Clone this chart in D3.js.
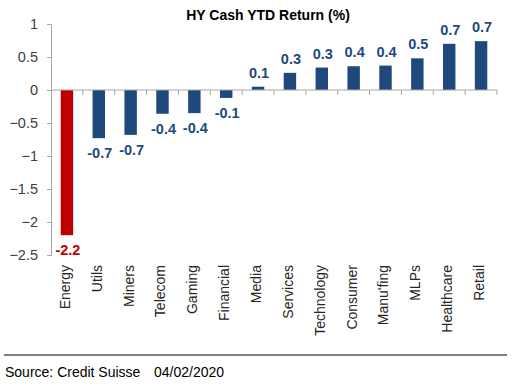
<!DOCTYPE html>
<html>
  <head>
    <meta charset="utf-8">
    <title>HY Cash YTD Return</title>
    <script src="https://d3js.org/d3.v7.min.js" type="text/javascript"></script>
    <style>
      body { margin: 0; background: #fff; }
      text { font-family: "Liberation Sans", Arial, sans-serif; }
    </style>
  </head>
  <body>
    <script>
      // chart data
      var sectors = ["Energy", "Utils", "Miners", "Telecom", "Gaming", "Financial", "Media",
                     "Services", "Technology", "Consumer", "Manu'fing", "MLPs", "Healthcare", "Retail"];
      var returns = [-2.2, -0.73, -0.68, -0.36, -0.35, -0.12, 0.05, 0.26, 0.34, 0.36, 0.37, 0.48, 0.70, 0.74];
      var valueLabels = ["-2.2", "-0.7", "-0.7", "-0.4", "-0.4", "-0.1", "0.1", "0.3", "0.3", "0.4", "0.4", "0.5", "0.7", "0.7"];
      var yTicks = [1, 0.5, 0, -0.5, -1, -1.5, -2, -2.5];
      var highlight = "Energy";

      var w = 519, h = 389;
      var blue = "#1f497d", red = "#c00000";

      var svg = d3.select("body").append("svg")
        .attr("width", w)
        .attr("height", h);

      var x = d3.scaleBand().domain(sectors).range([51, 497]);
      var y = d3.scaleLinear().domain([-2.5, 1]).range([255, 24]);

      // title
      svg.append("text")
        .attr("x", 268).attr("y", 20)
        .attr("text-anchor", "middle")
        .style("font-size", "14px").style("font-weight", "bold")
        .attr("fill", "#000")
        .text("HY Cash YTD Return (%)");

      // y axis
      var yAxis = svg.append("g")
        .attr("transform", "translate(51,0)")
        .call(d3.axisLeft(y).tickValues(yTicks).tickSize(4).tickFormat(d3.format("")));
      yAxis.select(".domain").attr("stroke", "#a6a6a6");
      yAxis.selectAll(".tick line").attr("stroke", "#a6a6a6");
      yAxis.selectAll(".tick text")
        .attr("x", -13)
        .attr("fill", "#404040")
        .style("font-size", "14.5px")
        .style("font-family", "Liberation Sans, Arial, sans-serif");

      // bars
      var barW = x.bandwidth() * 0.39;
      svg.selectAll(".bar")
        .data(sectors)
        .enter().append("rect")
        .attr("class", "bar")
        .attr("x", function(d) { return x(d) + (x.bandwidth() - barW) / 2; })
        .attr("width", barW)
        .attr("y", function(d, i) { return y(Math.max(0, returns[i])); })
        .attr("height", function(d, i) { return Math.abs(y(returns[i]) - y(0)); })
        .attr("fill", function(d) { return d === highlight ? red : blue; });

      // zero line with category dividers
      svg.append("line")
        .attr("x1", 51).attr("x2", 497)
        .attr("y1", y(0)).attr("y2", y(0))
        .attr("stroke", "#a6a6a6");
      svg.selectAll(".divider")
        .data(sectors)
        .enter().append("line")
        .attr("class", "divider")
        .attr("x1", function(d) { return x(d) + x.bandwidth(); })
        .attr("x2", function(d) { return x(d) + x.bandwidth(); })
        .attr("y1", y(0)).attr("y2", y(0) + 5)
        .attr("stroke", "#a6a6a6");

      // value labels
      svg.selectAll(".val")
        .data(sectors)
        .enter().append("text")
        .attr("class", "val")
        .attr("x", function(d) { return x(d) + x.bandwidth() / 2 + 1; })
        .attr("y", function(d, i) {
          return returns[i] >= 0 ? y(returns[i]) - 9 : y(returns[i]) + 20;
        })
        .attr("text-anchor", "middle")
        .style("font-size", "14.5px").style("font-weight", "bold")
        .attr("fill", function(d) { return d === highlight ? red : blue; })
        .text(function(d, i) { return valueLabels[i]; });

      // category labels
      svg.selectAll(".cat")
        .data(sectors)
        .enter().append("text")
        .attr("class", "cat")
        .attr("transform", function(d) {
          return "translate(" + (x(d) + x.bandwidth() / 2 - 2) + ",265) rotate(-90)";
        })
        .attr("text-anchor", "end")
        .attr("dy", "0.35em")
        .style("font-size", "14px")
        .attr("fill", "#262626")
        .text(function(d) { return d; });

      // source footer
      svg.append("line")
        .attr("x1", 4).attr("x2", 507)
        .attr("y1", 355).attr("y2", 355)
        .attr("stroke", "#000");
      svg.append("text")
        .attr("x", 5).attr("y", 377)
        .style("font-size", "14px")
        .attr("fill", "#000")
        .text("Source: Credit Suisse");
      svg.append("text")
        .attr("x", 154).attr("y", 377)
        .style("font-size", "14px")
        .attr("fill", "#000")
        .text("04/02/2020");
    </script>
  </body>
</html>
